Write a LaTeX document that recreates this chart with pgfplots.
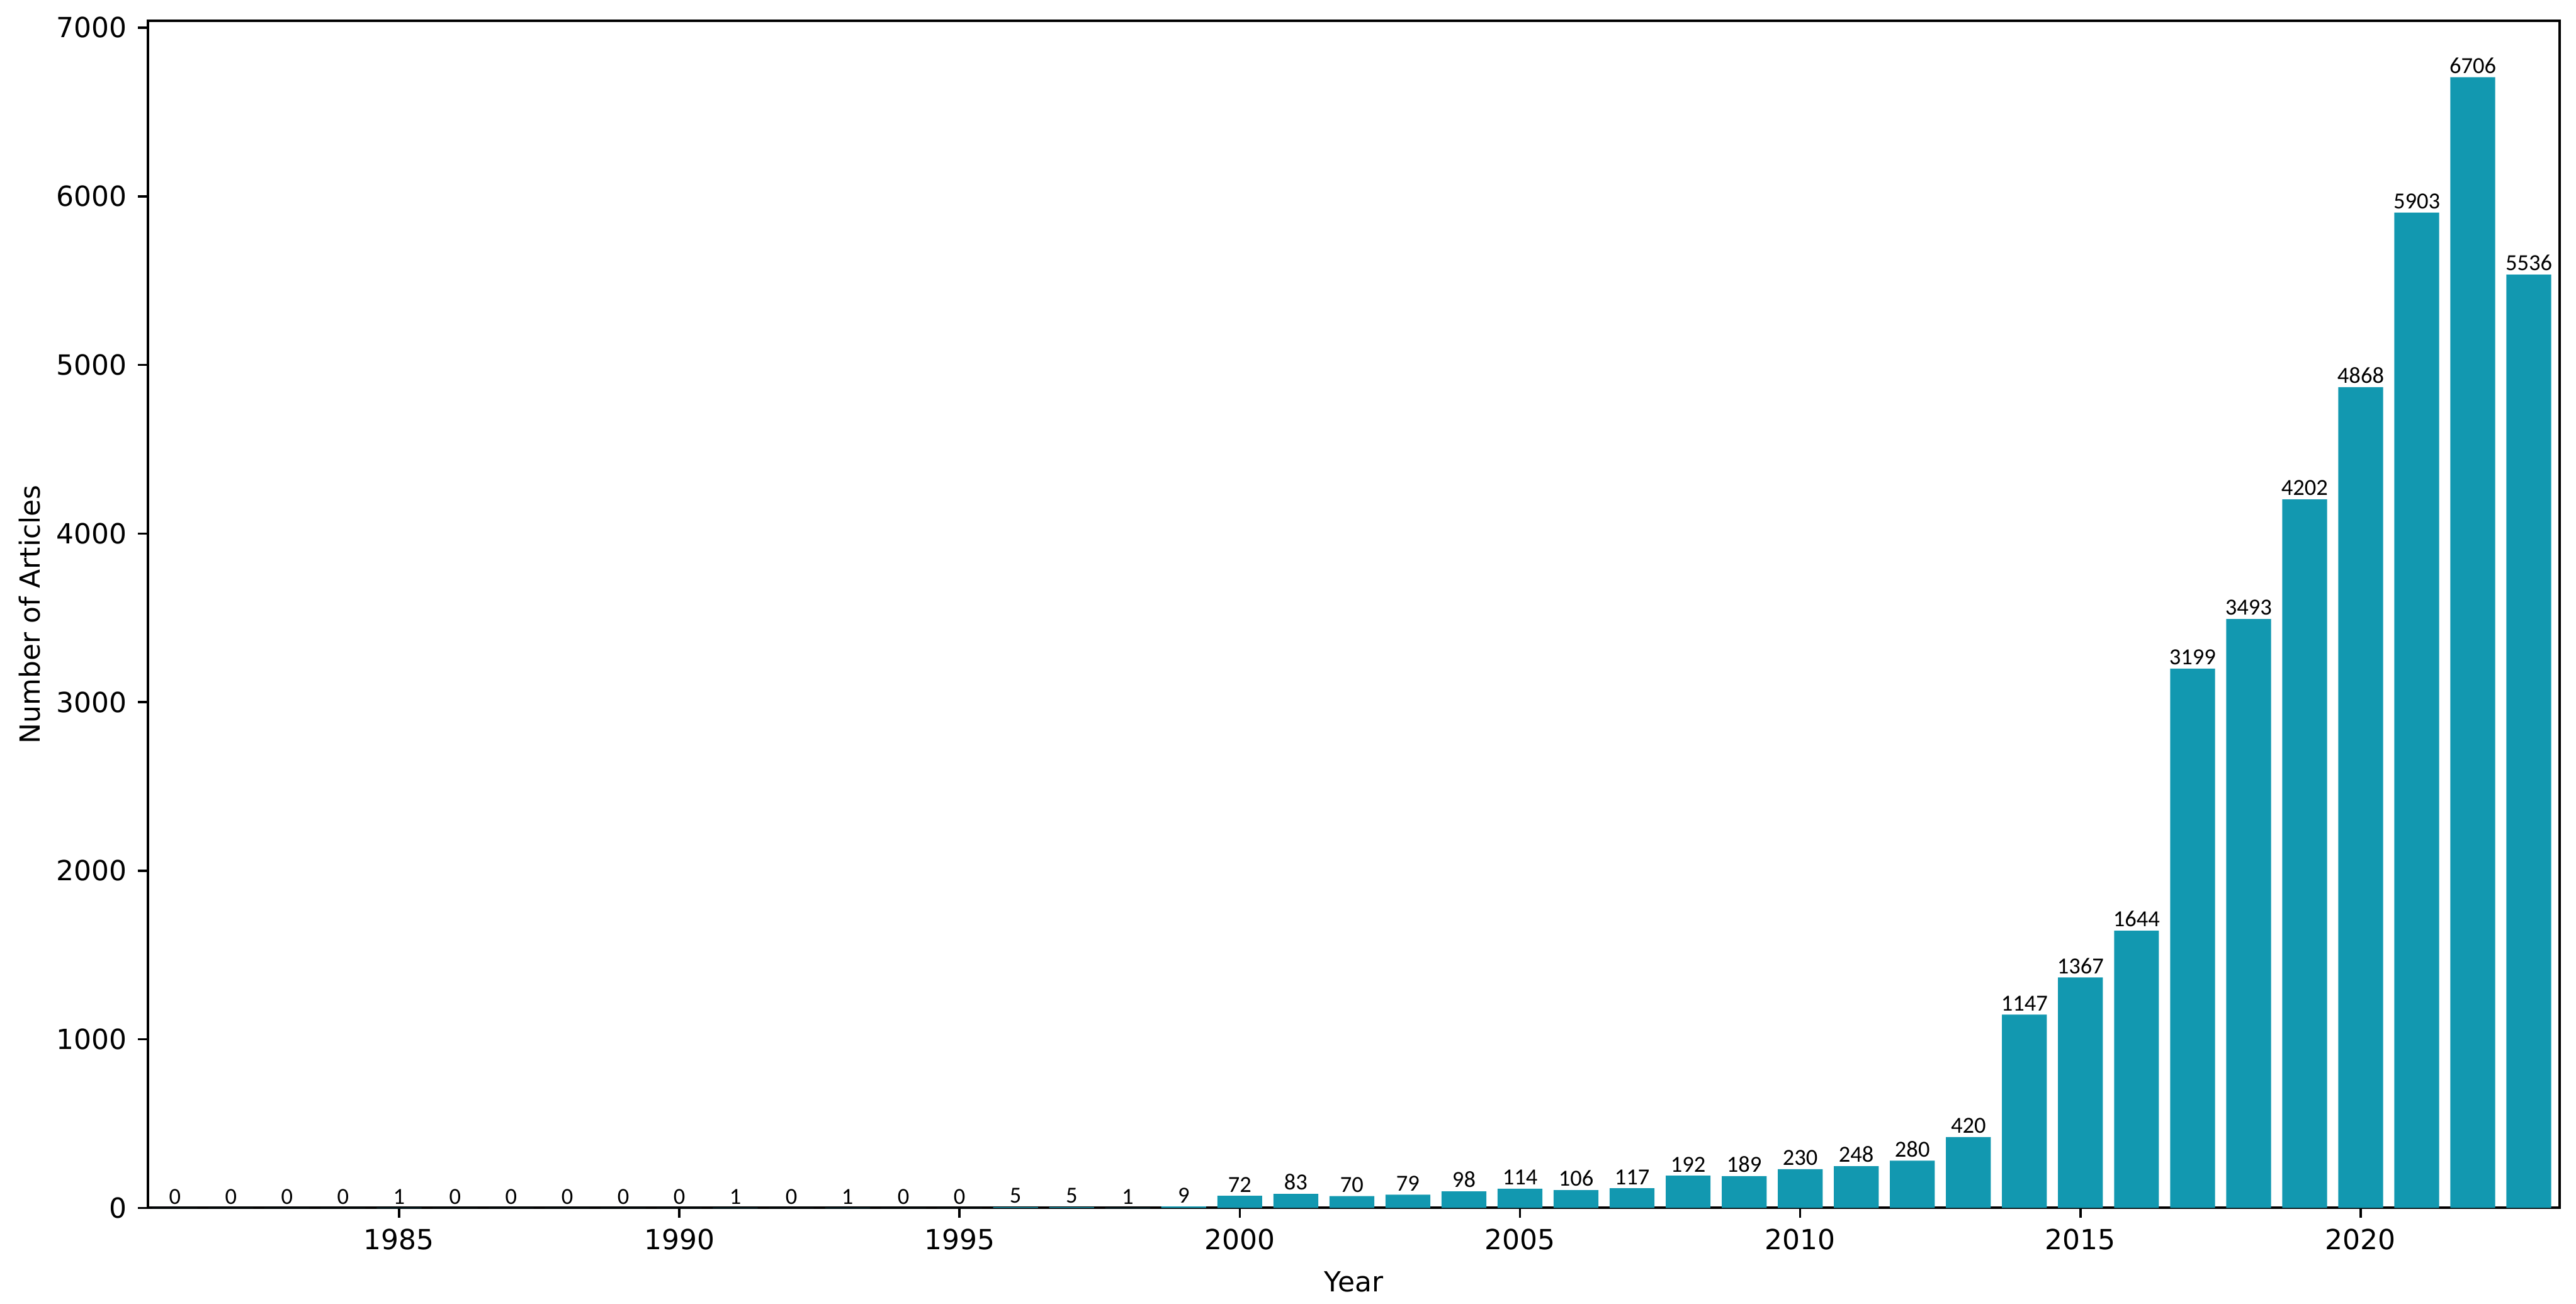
\documentclass[border=0pt]{standalone}
\usepackage{fontspec}
\setmainfont{DejaVu Sans}
\newfontfamily\barfont{Carlito}
\usepackage{pgfplots}
\pgfplotsset{compat=1.18}
\definecolor{barteal}{RGB}{18,152,176}

\begin{document}
\begin{tikzpicture}
\begin{axis}[
    scale only axis,
    width=766pt,
    height=377pt,
    ybar,
    bar width=0.8,
    xmin=1980.52, xmax=2023.55,
    ymin=0, ymax=7041,
    xtick={1985,1990,...,2020},
    ytick={0,1000,...,7000},
    /pgf/number format/1000 sep={},
    /pgf/number format/assume math mode=true,
    tick align=outside,
    xtick pos=left, ytick pos=left,
    major tick length=3.2pt,
    axis line style={line width=0.8pt},
    every tick/.style={line width=0.7pt, black},
    tick label style={font=\fontsize{8.8}{10}\selectfont},
    label style={font=\fontsize{8.8}{10}\selectfont},
    xlabel={Year},
    ylabel={Number of Articles},
    xlabel style={at={(axis description cs:0.5,-0.062)}, anchor=center},
    ylabel style={at={(axis description cs:-0.049,0.5)}, anchor=center},
    nodes near coords,
    nodes near coords style={font=\barfont\fontsize{7.3}{8}\selectfont, inner sep=1pt, /pgf/number format/1000 sep={}},
    clip=false,
]
\addplot[fill=barteal, draw=none] coordinates {
    (1981,0) (1982,0) (1983,0) (1984,0) (1985,1)
    (1986,0) (1987,0) (1988,0) (1989,0) (1990,0)
    (1991,1) (1992,0) (1993,1) (1994,0) (1995,0)
    (1996,5) (1997,5) (1998,1) (1999,9) (2000,72)
    (2001,83) (2002,70) (2003,79) (2004,98) (2005,114)
    (2006,106) (2007,117) (2008,192) (2009,189) (2010,230)
    (2011,248) (2012,280) (2013,420) (2014,1147) (2015,1367)
    (2016,1644) (2017,3199) (2018,3493) (2019,4202) (2020,4868)
    (2021,5903) (2022,6706) (2023,5536)
};
\coordinate (bl) at (rel axis cs:0,0);
\coordinate (tr) at (rel axis cs:1,1);
\end{axis}
\pgfresetboundingbox
\path ([shift={(-47pt,-30.4pt)}]bl) rectangle ([shift={(5.2pt,6.6pt)}]tr);
\end{tikzpicture}
\end{document}
